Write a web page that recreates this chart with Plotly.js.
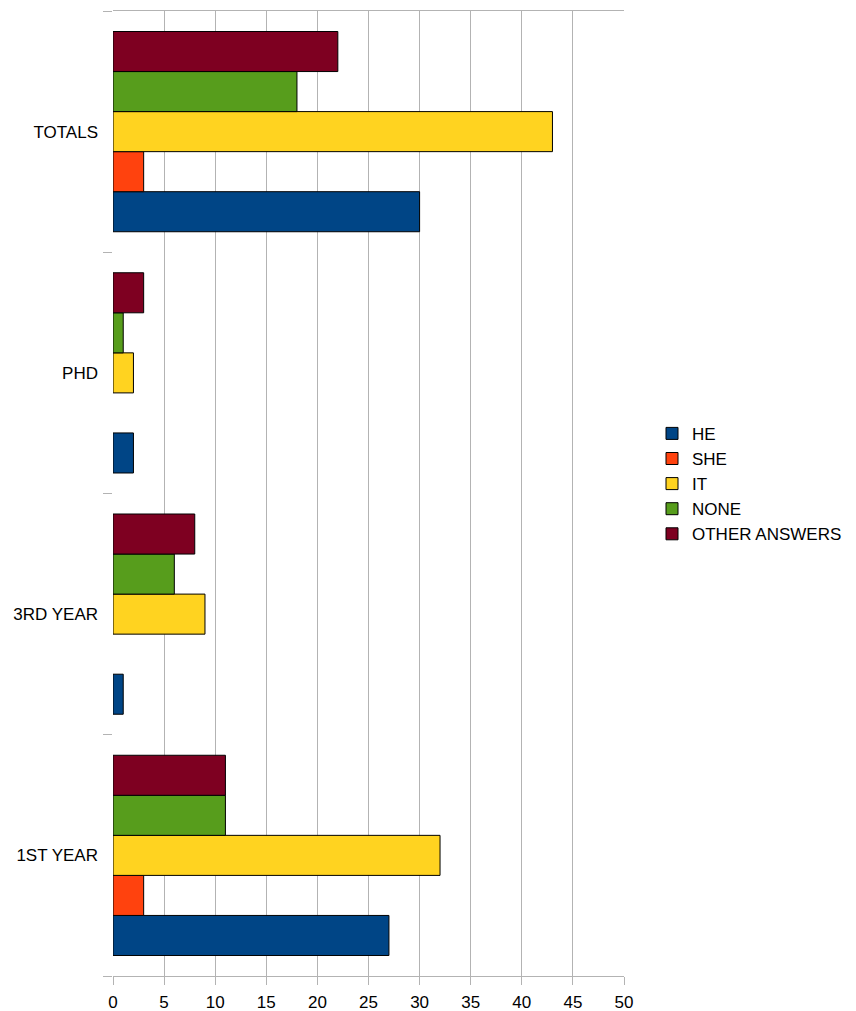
<!DOCTYPE html>
<html>
<head>
<meta charset="utf-8">
<script src="https://cdn.plot.ly/plotly-3.0.1.min.js"></script>
<style>html,body{margin:0;padding:0;background:#fff;}#chart{width:856px;height:1011px;}</style>
</head>
<body>
<div id="chart"></div>
<script>
const categories = ["1ST YEAR", "3RD YEAR", "PHD", "TOTALS"];
const seriesNames = ["HE", "SHE", "IT", "NONE", "OTHER ANSWERS"];
const he = [27, 1, 2, 30];
const she = [3, 0, 0, 3];
const it = [32, 9, 2, 43];
const none = [11, 6, 1, 18];
const other = [11, 8, 3, 22];
const xTicks = [0, 5, 10, 15, 20, 25, 30, 35, 40, 45, 50];
const colors = ["#004586", "#ff420e", "#ffd320", "#579d1c", "#7e0021"];

const values = [he, she, it, none, other];
const traces = values.map((v, i) => ({
  type: "bar",
  orientation: "h",
  name: seriesNames[i],
  y: categories,
  x: v,
  marker: {
    color: colors[i],
    line: {color: "#000000", width: v.map(d => (d === 0 ? 0 : 1))}
  },
  hoverinfo: "x+name"
}));

const layout = {
  width: 856,
  height: 1011,
  margin: {l: 113, r: 232, t: 11, b: 35, autoexpand: false},
  paper_bgcolor: "#ffffff",
  plot_bgcolor: "#ffffff",
  barmode: "group",
  bargap: 0.17,
  bargroupgap: 0,
  font: {family: "Liberation Sans, Arial, sans-serif", size: 17, color: "#000000"},
  xaxis: {
    range: [0, 50],
    tickvals: xTicks,
    ticktext: xTicks.map(String),
    showgrid: true,
    gridcolor: "#b3b3b3",
    gridwidth: 1,
    zeroline: false,
    showline: true,
    linecolor: "#b3b3b3",
    linewidth: 1,
    mirror: true,
    ticks: "outside",
    ticklen: 8,
    tickcolor: "#b3b3b3",
    tickfont: {size: 17},
    ticklabelstandoff: 3,
    automargin: false,
    fixedrange: true
  },
  yaxis: {
    type: "category",
    categoryorder: "array",
    categoryarray: categories,
    tickson: "boundaries",
    ticks: "outside",
    ticklen: 9,
    tickcolor: "#b3b3b3",
    showgrid: false,
    zeroline: false,
    showline: false,
    tickfont: {size: 17},
    ticklabelstandoff: 14,
    automargin: false,
    fixedrange: true
  },
  legend: {
    x: 1.0548, xanchor: "left", xref: "paper",
    y: 0.51, yanchor: "middle",
    traceorder: "normal",
    font: {size: 17},
    itemwidth: 30,
    tracegroupgap: 0,
    bgcolor: "rgba(0,0,0,0)"
  },
  showlegend: true
};

Plotly.newPlot("chart", traces, layout, {displayModeBar: false, staticPlot: true});
</script>
</body>
</html>
